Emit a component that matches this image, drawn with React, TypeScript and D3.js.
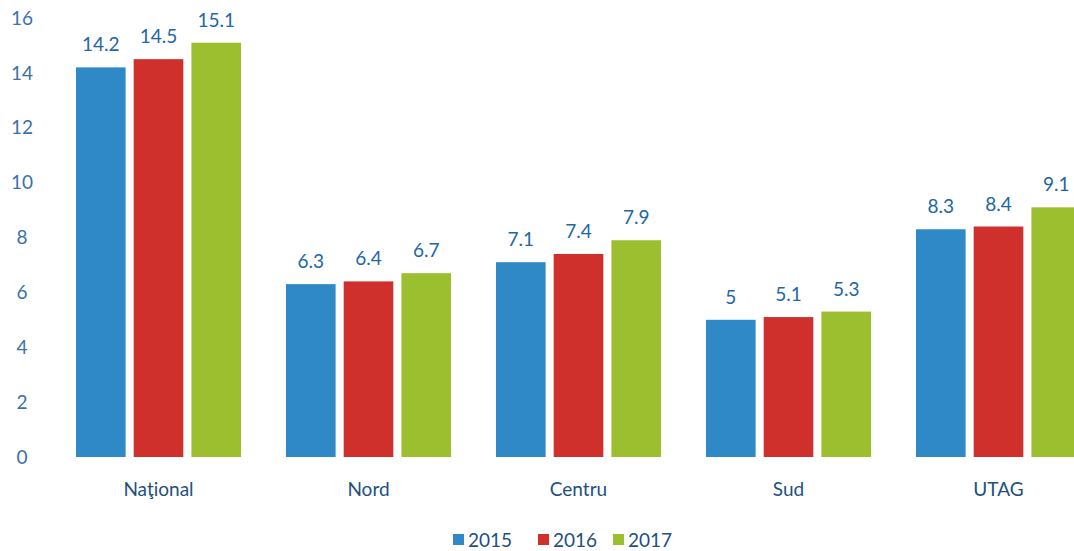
import React from "react";
import * as d3 from "d3";

const categories = ["Naţional", "Nord", "Centru", "Sud", "UTAG"];
const years = ["2015", "2016", "2017"];
const values2015 = [14.2, 6.3, 7.1, 5, 8.3];
const values2016 = [14.5, 6.4, 7.4, 5.1, 8.4];
const values2017 = [15.1, 6.7, 7.9, 5.3, 9.1];
const yTicks = [0, 2, 4, 6, 8, 10, 12, 14, 16];
const colors = ["#2f89c6", "#d0302c", "#9cbf30"];

export default function App() {
  const W = 1074, H = 551;
  const series = [values2015, values2016, values2017];
  const y = d3.scaleLinear().domain([0, 16]).range([457, 18]);
  const x0 = d3.scaleBand<string>().domain(categories).range([53.5, 1103.5]).paddingInner(0.214).paddingOuter(0.107);
  const x1 = d3.scaleBand<string>().domain(years).range([0, x0.bandwidth()]).paddingInner(0.14);
  const font = "Lato, 'Open Sans', sans-serif";
  const legendX = [453, 538, 613];
  return (
    <svg width={W} height={H} style={{ position: "absolute", left: 0, top: 0, background: "#fff" }} fontFamily={font}>
      {yTicks.map((t) => (
        <text key={t} x={22} y={y(t)} dy="0.35em" textAnchor="middle" fontSize={19} fill="#3a72a8">{t}</text>
      ))}
      {categories.map((c, i) => (
        <g key={c} transform={`translate(${x0(c)},0)`}>
          {years.map((yr, j) => {
            const v = series[j][i];
            const bx = x1(yr)!;
            return (
              <g key={yr}>
                <rect x={bx} y={y(v)} width={x1.bandwidth()} height={y(0) - y(v)} fill={colors[j]} />
                <text x={bx + x1.bandwidth() / 2} y={y(v) - 16} textAnchor="middle" fontSize={19} fill="#2166a6">{v}</text>
              </g>
            );
          })}
          <text x={x0.bandwidth() / 2} y={496} textAnchor="middle" fontSize={19} fill="#234f80">{c}</text>
        </g>
      ))}
      {years.map((yr, j) => (
        <g key={yr}>
          <rect x={legendX[j]} y={534} width={11} height={11} fill={colors[j]} />
          <text x={legendX[j] + 15} y={547} fontSize={19} fill="#234f80">{yr}</text>
        </g>
      ))}
    </svg>
  );
}
